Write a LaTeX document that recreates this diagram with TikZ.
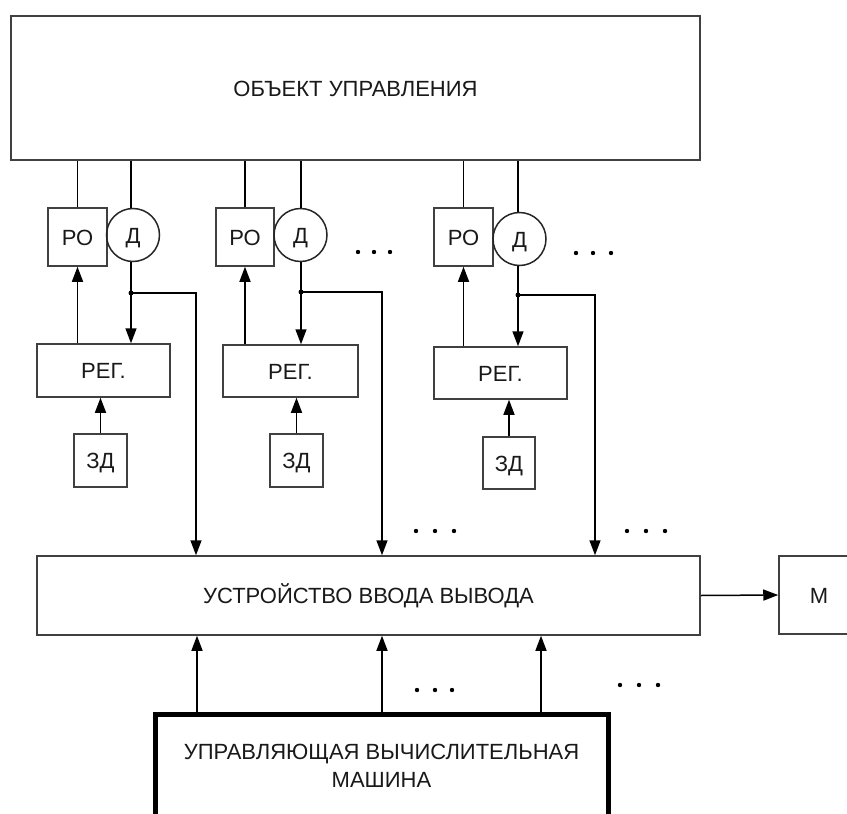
\documentclass[tikz,border=0pt]{standalone}
\usepackage{fontspec}
\setmainfont{Liberation Sans}
\usetikzlibrary{arrows.meta}
\begin{document}
\begin{tikzpicture}[x=1pt,y=-1pt,
  box/.style={draw=black!75, line width=1.5pt, rectangle, inner sep=0pt,
    font=\fontsize{22}{28}\selectfont, text=black!90,
    text height=16pt, text depth=0pt},
  thickbox/.style={draw=black, line width=5pt, rectangle, inner sep=0pt,
    font=\fontsize{22}{28}\selectfont, text=black!90, align=center},
  sens/.style={draw=black!85, line width=1.5pt, circle, inner sep=0pt,
    minimum size=53pt, font=\fontsize{22}{28}\selectfont, text=black!90,
    text height=16pt, text depth=0pt},
  wire/.style={line width=1.5pt, draw=black},
  arr/.style={wire, -{Triangle[length=15pt,width=11pt]}},
  jdot/.style={circle, fill=black, inner sep=0pt, minimum size=5pt}]
\useasboundingbox (0,0) rectangle (847,814);
\clip (0,0) rectangle (847,814);

% main boxes
\node[box, minimum width=689pt, minimum height=144pt] (top) at (355.5,88) {ОБЪЕКТ УПРАВЛЕНИЯ};
\node[box, minimum width=663pt, minimum height=79pt] (io) at (368.5,595.5) {УСТРОЙСТВО ВВОДА ВЫВОДА};
\node[box, minimum width=80pt, minimum height=78pt] (m) at (819,595) {М};
\node[thickbox, minimum width=453pt, minimum height=104pt] (uvm) at (381.5,766) {УПРАВЛЯЮЩАЯ ВЫЧИСЛИТЕЛЬНАЯ\\МАШИНА};

% unit 1
\node[box, minimum width=59pt, minimum height=58pt] (ro1) at (77.5,237) {РО};
\node[sens] (d1) at (133,235) {Д};
\node[box, minimum width=133pt, minimum height=53pt] (reg1) at (103.5,370.5) {РЕГ.};
\node[box, minimum width=53pt, minimum height=53pt] (zd1) at (100.5,460.5) {ЗД};
\coordinate (j1) at (131,293);
\coordinate (t1) at (196,293);

% unit 2
\node[box, minimum width=58pt, minimum height=58pt] (ro2) at (245,237) {РО};
\node[sens] (d2) at (300.5,235) {Д};
\node[box, minimum width=135pt, minimum height=52pt] (reg2) at (290.5,371) {РЕГ.};
\node[box, minimum width=53pt, minimum height=53pt] (zd2) at (296.5,460.5) {ЗД};
\coordinate (j2) at (301,292);
\coordinate (t2) at (382,292);

% unit 3
\node[box, minimum width=59pt, minimum height=58pt] (ro3) at (463.5,237) {РО};
\node[sens] (d3) at (519.5,239) {Д};
\node[box, minimum width=133pt, minimum height=52pt] (reg3) at (500.5,373) {РЕГ.};
\node[box, minimum width=52pt, minimum height=52pt] (zd3) at (509,463) {ЗД};
\coordinate (j3) at (518,295);
\coordinate (t3) at (595,295);

\foreach \i in {1,2,3}{
  \draw[wire] (ro\i.north) -- (ro\i.north |- top.south);
  \draw[wire] (j\i |- d\i.north) -- (j\i |- top.south);
  \draw[arr] (ro\i.south |- reg\i.north) -- (ro\i.south);
  \draw[wire] (j\i |- d\i.south) -- (j\i);
  \draw[arr] (j\i) -- (j\i |- reg\i.north);
  \draw[arr] (j\i) -- (t\i) -- (t\i |- io.north);
  \draw[arr] (zd\i.north) -- (zd\i.north |- reg\i.south);
  \node[jdot] (jd\i) at (j\i) {};
}

% computer to I/O
\coordinate (b1) at (197,0);
\coordinate (b2) at (382,0);
\coordinate (b3) at (541,0);
\foreach \i in {1,2,3}{
  \draw[arr] (b\i |- uvm.north) -- (b\i |- io.south);
}
% I/O to M
\draw[arr] (io.east) -- (m.west);

% ellipses
\foreach \x/\y in {358/252,374/252,390/252, 576/253,593/253,611/253,
                   416/531,435/531,454/531, 627/531,646/531,665/531,
                   417/690,435/690,452/690, 620/685,639/685,658/685}{
  \fill (\x,\y) circle (2.2pt);
}
\end{tikzpicture}
\end{document}
